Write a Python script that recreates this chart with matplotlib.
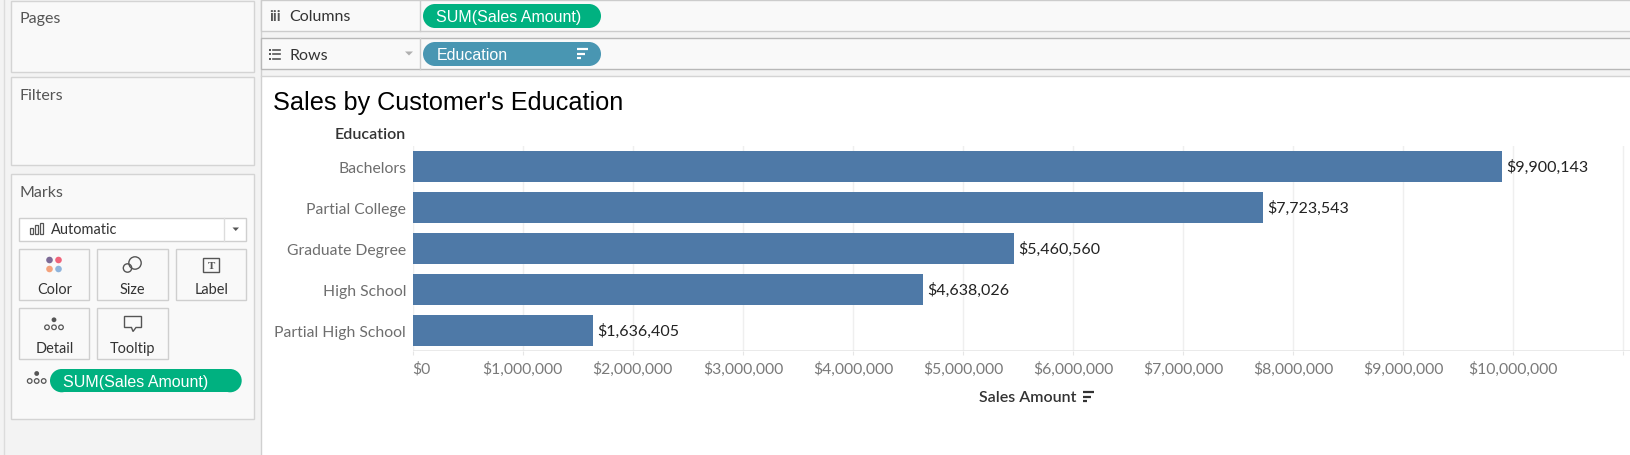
import numpy as np
import matplotlib
matplotlib.use("Agg")
import matplotlib.pyplot as plt
from matplotlib.patches import Rectangle, Circle, Polygon

# ---- data -------------------------------------------------------------
education = ["Bachelors", "Partial College", "Graduate Degree",
             "High School", "Partial High School"]
sales = [9900143, 7723543, 5460560, 4638026, 1636405]
tick_values = [0, 1e6, 2e6, 3e6, 4e6, 5e6, 6e6, 7e6, 8e6, 9e6, 10e6]
tick_labels = ["$0", "$1,000,000", "$2,000,000", "$3,000,000", "$4,000,000",
               "$5,000,000", "$6,000,000", "$7,000,000", "$8,000,000",
               "$9,000,000", "$10,000,000"]
grid_values = tick_values + [11e6]

W, H = 1631, 456
UI_FONT = ["Lato", "DejaVu Sans"]
ARIAL = ["Liberation Sans", "DejaVu Sans"]
BAR = "#4e79a7"
GREEN = "#00b180"
BLUE_PILL = "#4996b2"
BORDER = "#d4d4d4"


def px(v):
    # pixel size -> points at dpi 100
    return v * 0.72


fig = plt.figure(figsize=(W / 100, H / 100), dpi=100)
bg = fig.add_axes([0, 0, 1, 1])
bg.set_xlim(0, W)
bg.set_ylim(H, 0)
bg.axis("off")


def box(x0, y0, x1, y1, fc="#f9f9f9", ec=BORDER, lw=1.0, z=1):
    bg.add_patch(Rectangle((x0, y0), x1 - x0, y1 - y0, fc=fc, ec=ec, lw=lw, zorder=z))


def pill(x0, y0, x1, y1, color, text):
    r = (y1 - y0) / 2
    bg.add_patch(Rectangle((x0 + r, y0), x1 - x0 - 2 * r, y1 - y0, fc=color,
                           ec="none", zorder=3))
    bg.add_patch(Circle((x0 + r, y0 + r), r, fc=color, ec="none", zorder=3))
    bg.add_patch(Circle((x1 - r, y0 + r), r, fc=color, ec="none", zorder=3))
    bg.text(x0 + 13.5, (y0 + y1) / 2 + 0.5, text, color="white", fontsize=px(16),
            family=ARIAL, va="center", ha="left", zorder=4)


def sort_icon(x, y, color):
    for dy, ln in [(0, 11), (4.5, 8), (9, 4)]:
        bg.plot([x, x + ln], [y + dy, y + dy], color=color, lw=1.6,
                solid_capstyle="butt", zorder=5)


# ---- left panel --------------------------------------------------------
box(0, 0, 261.5, H, fc="#f3f3f3", ec="none", z=0)
bg.plot([4, 4], [0, H], color="#dcdcdc", lw=1, zorder=1)
bg.plot([261.5, 261.5], [0, H], color="#d0d0d0", lw=1, zorder=1)
box(11.5, 1.5, 254.5, 72.5)
box(11.5, 78, 254.5, 166)
box(11.5, 175, 254.5, 420.5)
for label, y in [("Pages", 19), ("Filters", 96), ("Marks", 193)]:
    bg.text(19.5, y, label, fontsize=px(16), family=UI_FONT, color="#555555",
            va="center", ha="left", zorder=4)

# Marks type dropdown
box(19.5, 218.5, 246.5, 241.5, fc="white", ec="#cfcfcf", z=2)
bg.plot([224.5, 224.5], [218.5, 241.5], color="#dcdcdc", lw=1, zorder=3)
bg.add_patch(Polygon([[232.5, 228.5], [239, 228.5], [235.75, 232]], fc="#555555",
                     ec="none", zorder=4))
for bx, bh in [(32, 6), (37, 9), (42, 11)]:
    bg.add_patch(Rectangle((bx - 1.5, 235 - bh), 3, bh, fc="none", ec="#555555",
                           lw=0.9, zorder=4))
bg.text(50.5, 230.5, "Automatic", fontsize=px(14.5), family=UI_FONT, color="#333333",
        va="center", ha="left", zorder=4)

# Marks cards
cards = [(19.5, 249.5, 89.5, 300.5, "Color"), (97, 249.5, 168.5, 300.5, "Size"),
         (176, 249.5, 246.5, 300.5, "Label"), (19.5, 308.5, 89.5, 360, "Detail"),
         (97, 308.5, 168.5, 360, "Tooltip")]
for x0, y0, x1, y1, name in cards:
    box(x0, y0, x1, y1, fc="#f9f9f9", ec="#cfcfcf", z=2)
    bg.text((x0 + x1) / 2, y1 - 10.5, name, fontsize=px(14.5), family=UI_FONT,
            color="#333333", va="center", ha="center", zorder=4)

# color icon
for (cx, cy), c in zip([(49.5, 261), (58.5, 261), (49.5, 270), (58.5, 270)],
                       ["#7c6a96", "#f0637a", "#f4a27c", "#8fb4dc"]):
    bg.add_patch(Circle((cx, cy), 3.3, fc=c, ec="none", zorder=4))
# size icon
bg.add_patch(Circle((127.5, 269), 4.2, fc="#f9f9f9", ec="#555555", lw=1.0, zorder=4))
bg.add_patch(Circle((135, 264), 6.2, fc="none", ec="#555555", lw=1.0, zorder=5))
# label icon
bg.add_patch(Rectangle((203, 259), 16.5, 14, fc="none", ec="#555555", lw=1.0, zorder=4))
bg.text(211.3, 266.3, "T", fontsize=px(11), family=["Liberation Serif", "DejaVu Serif"],
        fontweight="bold", color="#555555", ha="center", va="center", zorder=5)


def detail_icon(cx, cy):
    bg.add_patch(Circle((cx, cy - 7.5), 2.4, fc="#555555", ec="none", zorder=4))
    for dx in (-7, 0, 7):
        bg.add_patch(Circle((cx + dx, cy), 2.3, fc="none", ec="#555555", lw=0.9, zorder=4))


detail_icon(54, 328.3)
# tooltip icon
bg.add_patch(Polygon([[124.5, 317.5], [141.5, 317.5], [141.5, 328.5], [136, 328.5],
                      [133, 332.5], [131.5, 328.5], [124.5, 328.5]], closed=True,
                     fc="none", ec="#555555", lw=1.0, zorder=4))

detail_icon(36.7, 382)
pill(50, 370, 241.7, 393.3, GREEN, "SUM(Sales Amount)")

# ---- shelves -----------------------------------------------------------
box(261.5, 0, W, 77.3, fc="#f3f3f3", ec="none", z=0)
box(261.3, 1.3, W + 2, 32.3, fc="#f9f9f9", ec="#cccccc")
box(261.3, 39.3, W + 2, 70.3, fc="#f9f9f9", ec="#b8b8b8")
bg.plot([420.3, 420.3], [1.3, 32.3], color="#cccccc", lw=1, zorder=2)
bg.plot([420.3, 420.3], [39.3, 70.3], color="#cccccc", lw=1, zorder=2)
bg.plot([261.5, W], [77.3, 77.3], color="#d4d4d4", lw=1, zorder=2)
bg.text(269, 17, "iii", fontsize=px(15), family=UI_FONT, fontweight="bold",
        color="#555555", va="center", ha="left", zorder=4)
bg.text(289.3, 17.3, "Columns", fontsize=px(16), family=UI_FONT, color="#333333",
        va="center", ha="left", zorder=4)
for yy in (50.5, 55.3, 60):
    bg.add_patch(Rectangle((269.5, yy - 1), 2, 2, fc="#555555", ec="none", zorder=4))
    bg.plot([273.5, 280.5], [yy, yy], color="#555555", lw=1.2, zorder=4)
bg.text(289.3, 55.7, "Rows", fontsize=px(16), family=UI_FONT, color="#333333",
        va="center", ha="left", zorder=4)
bg.add_patch(Polygon([[405, 52.5], [413, 52.5], [409, 56.5]], fc="#b0b0b0",
                     ec="none", zorder=4))
pill(423, 5, 601, 29, GREEN, "SUM(Sales Amount)")
pill(423, 43, 601, 67, BLUE_PILL, "Education")
sort_icon(576.7, 50.2, "white")

# ---- view --------------------------------------------------------------
box(261.5, 77.8, W + 2, H + 2, fc="white", ec="none", z=0)
bg.text(273.3, 103.5, "Sales by Customer's Education", fontsize=px(25.2),
        family=ARIAL, color="black", va="center", ha="left", zorder=4)
bg.text(406, 135, "Education", fontsize=px(16), family=UI_FONT,
        fontweight="semibold", color="#333333", va="center", ha="right", zorder=4)
bg.text(1028, 398.3, "Sales Amount", fontsize=px(16), family=UI_FONT,
        fontweight="semibold", color="#333333", va="center", ha="center", zorder=4)
sort_icon(1083.5, 393.5, "#333333")

x0, x1, ytop, ybot = 412.7, W, 146.7, 352.3
ax = fig.add_axes([x0 / W, 1 - ybot / H, (x1 - x0) / W, (ybot - ytop) / H])
ax.set_facecolor("none")
ypos = np.arange(len(education))
ax.barh(ypos, sales, height=0.75, color=BAR, zorder=3)
ax.set_ylim(len(education) - 0.5, -0.5)
ax.set_xlim(0, (x1 - x0) / 110.06 * 1e6)
for g in grid_values:
    ax.axvline(g, color="#efefef", lw=1, zorder=1)
for s in ax.spines.values():
    s.set_visible(False)
ax.axhline(len(education) - 0.5, color="#e6e6e6", lw=1.2, zorder=2)

ax.set_yticks(ypos)
ax.set_yticklabels(education, fontsize=px(15.8), family=UI_FONT, color="#6e6e6e")
ax.tick_params(axis="y", length=0, pad=px(6.5))
ax.set_xticks(grid_values)
ax.set_xticklabels(tick_labels + [""], fontsize=px(15.8), family=UI_FONT, color="#7a7a7a")
ax.tick_params(axis="x", length=3, color="#e6e6e6", pad=px(5.5))
ax.get_xticklabels()[0].set_ha("left")

for i, v in enumerate(sales):
    ax.annotate(f"${v:,.0f}", (v, i), xytext=(3, 0), textcoords="offset points",
                fontsize=px(16), family=UI_FONT, color="#222222", va="center", ha="left")

fig.savefig("out.png", dpi=100)
